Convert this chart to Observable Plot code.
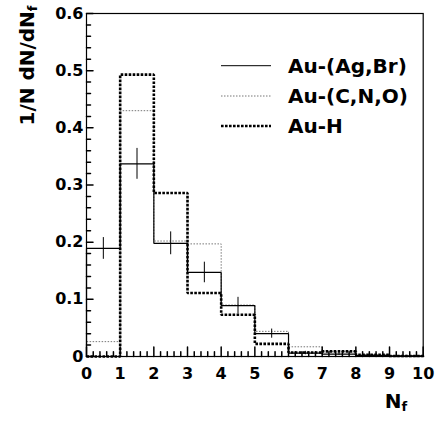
<!DOCTYPE html>
<html><head><meta charset="utf-8">
<script src="https://cdn.jsdelivr.net/npm/d3@7"></script>
<script src="https://cdn.jsdelivr.net/npm/@observablehq/plot@0.6"></script>
<style>html,body{margin:0;padding:0;background:#fff;}</style>
</head><body><div id="chart"></div>
<script>
// ---- data ----
const binEdges = [0, 1, 2, 3, 4, 5, 6, 7, 8, 9, 10];
const seriesNames = ["Au-(Ag,Br)", "Au-(C,N,O)", "Au-H"];
const agbrValues = [0.189, 0.337, 0.198, 0.147, 0.089, 0.040, 0.006, 0.004, 0.002, 0.001];
const agbrErrors = [0.019, 0.027, 0.020, 0.018, 0.0145, 0.008, 0.003, 0.002, 0.0015, 0.001];
const cnoValues  = [0.026, 0.430, 0.202, 0.197, 0.090, 0.044, 0.017, 0.009, 0.003, 0.001];
const hValues    = [0.000, 0.493, 0.286, 0.111, 0.073, 0.022, 0.007, 0.009, 0.003, 0.001];
const yTicks = [0, 0.1, 0.2, 0.3, 0.4, 0.5, 0.6];
const yTickLabels = ["0", "0.1", "0.2", "0.3", "0.4", "0.5", "0.6"];
const xTicks = [0, 1, 2, 3, 4, 5, 6, 7, 8, 9, 10];
const xTickLabels = ["0", "1", "2", "3", "4", "5", "6", "7", "8", "9", "10"];
const yLabel = "1/N dN/dN";
const xLabel = "N";
const labelSub = "f";

// ---- helpers ----
function steps(vals) {
  const n = vals.length;
  const pts = [{x: binEdges[0], y: 0}];
  vals.forEach((v, i) => pts.push({x: binEdges[i], y: v}));
  pts.push({x: binEdges[n], y: vals[n - 1]});
  pts.push({x: binEdges[n], y: 0});
  return pts;
}
const errData = agbrValues.map((v, i) => ({
  x: (binEdges[i] + binEdges[i + 1]) / 2, lo: v - agbrErrors[i], hi: v + agbrErrors[i]
}));
const yMinor = d3.range(0, 61, 2).map(d => d / 100).filter(d => Math.round(d * 100) % 10 !== 0);
const xMinor = d3.range(0, 51, 1).map(d => d / 5).filter(d => Math.round(d * 5) % 5 !== 0);
const tickShape = {draw(ctx, l) { ctx.moveTo(0, 0); ctx.lineTo(0, -l); }};

const styles = [
  {stroke: "black", strokeWidth: 1.2, strokeDasharray: null},
  {stroke: "#777", strokeWidth: 1, strokeDasharray: "1.5,1.5"},
  {stroke: "black", strokeWidth: 2.6, strokeDasharray: "2.6,1.4"}
];

const chart = Plot.plot({
  width: 438,
  height: 422,
  marginLeft: 86,
  marginRight: 15.3,
  marginTop: 13,
  marginBottom: 66,
  style: {fontFamily: "DejaVu Sans", fontWeight: "bold", fontSize: "16px", background: "white", color: "black"},
  x: {domain: [0, 10], axis: null},
  y: {domain: [0, 0.6], axis: null},
  marks: [
    Plot.line(steps(cnoValues), {x: "x", y: "y", curve: "step-after", strokeLinecap: "butt", strokeLinejoin: "miter", ...styles[1]}),
    Plot.line(steps(agbrValues), {x: "x", y: "y", curve: "step-after", strokeLinecap: "butt", strokeLinejoin: "miter", ...styles[0]}),
    Plot.ruleX(errData, {x: "x", y1: "lo", y2: "hi", stroke: "black", strokeWidth: 1}),
    Plot.line(steps(hValues), {x: "x", y: "y", curve: "step-after", strokeLinecap: "butt", strokeLinejoin: "miter", ...styles[2]}),
    Plot.frame({stroke: "black", strokeWidth: 1.2}),
    Plot.vector(yTicks, {x: 0, y: d => d, length: 6.5, rotate: 90, anchor: "start", shape: tickShape, stroke: "black"}),
    Plot.vector(yMinor, {x: 0, y: d => d, length: 4, rotate: 90, anchor: "start", shape: tickShape, stroke: "black"}),
    Plot.vector(xTicks, {x: d => d, y: 0, length: 9.5, rotate: 0, anchor: "start", shape: tickShape, stroke: "black"}),
    Plot.vector(xMinor, {x: d => d, y: 0, length: 4.7, rotate: 0, anchor: "start", shape: tickShape, stroke: "black"}),
    Plot.axisX({ticks: xTicks, tickFormat: (d, i) => xTickLabels[i], tickSize: 0, tickPadding: 11, fontSize: 16, label: null}),
    Plot.axisY({ticks: yTicks, tickFormat: (d, i) => yTickLabels[i], tickSize: 0, tickPadding: 3, fontSize: 16, label: null}),
    Plot.text([yLabel], {text: d => d, frameAnchor: "top-left", rotate: -90, textAnchor: "end", lineAnchor: "bottom", dx: -53, dy: -8, fontSize: 20, fill: "black"}),
    Plot.text([xLabel], {text: d => d, frameAnchor: "bottom-right", textAnchor: "end", lineAnchor: "bottom", dx: -16, dy: 51, fontSize: 20, fill: "black"})
  ]
});

// subscripts
d3.select(chart).selectAll("text").each(function() {
  const t = d3.select(this);
  if (this.textContent === yLabel || this.textContent === xLabel) {
    t.append("tspan").attr("dy", "0.3em").attr("font-size", "13px").text(labelSub);
  }
});

// legend
const svg = d3.select(chart);
const lg = svg.append("g").attr("text-anchor", "start");
const rowsY = [65.7, 96, 126];
seriesNames.forEach((name, i) => {
  lg.append("line").attr("x1", 221).attr("x2", 271).attr("y1", rowsY[i]).attr("y2", rowsY[i])
    .attr("stroke", styles[i].stroke).attr("stroke-width", i === 0 ? 1 : styles[i].strokeWidth)
    .attr("stroke-dasharray", styles[i].strokeDasharray);
  lg.append("text").attr("x", 288).attr("y", rowsY[i] + 7).attr("font-size", 20)
    .attr("text-anchor", "start").attr("fill", "black").text(name);
});

document.getElementById("chart").appendChild(chart);
</script>
</body></html>
